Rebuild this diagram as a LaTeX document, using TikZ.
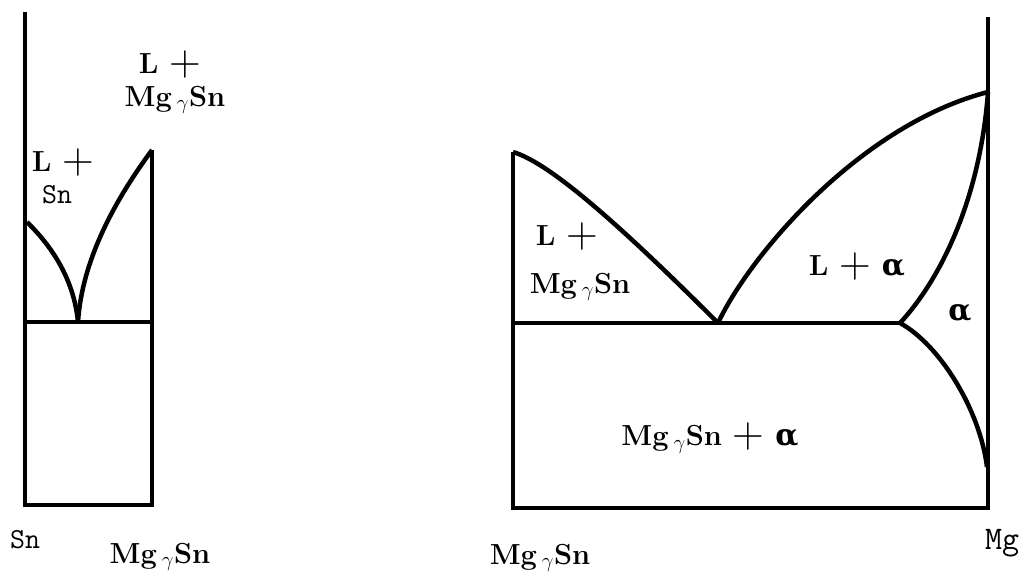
\documentclass[tikz,border=0pt]{standalone}
\usepackage{fontspec}
\usepackage{amsmath}
\newfontfamily\greekbold{DejaVu Serif}
\newcommand{\mgsn}{Mg\,$_{\gamma}$Sn}
\newcommand{\alphab}{{\greekbold\bfseries\fontsize{30}{30}\selectfont α}}
\newcommand{\plusm}{\raisebox{-2pt}{\mdseries\fontsize{44}{44}\selectfont +}}
\tikzset{
  phase/.style={line width=4.5pt, line join=miter},
  eut/.style={line width=4pt},
  lbl/.style={font=\fontsize{29}{32}\selectfont\bfseries, inner sep=0pt, anchor=center},
  mono/.style={font=\ttfamily\fontsize{29}{31}\selectfont, inner sep=0pt, anchor=center}
}
\begin{document}
\begin{tikzpicture}[x=1pt,y=-1pt]
\useasboundingbox (0,0) rectangle (1027,578);
% ---------- left diagram ----------
\coordinate (LTop) at (25,12);
\coordinate (LBL) at (25,505);
\coordinate (LBR) at (152,505);
\coordinate (LTR) at (152,150);
\coordinate (LEl) at (25,322);
\coordinate (LEr) at (152,322);
\coordinate (LEu) at (78,322);
\coordinate (LSn) at (27,222);
\draw[phase] (LTop) -- (LBL) -- (LBR) -- (LTR);
\draw[eut] (LEl) -- (LEr);
\draw[phase] (LSn) .. controls (42,237) and (73,270) .. (LEu);
\draw[phase] (LEu) .. controls (82,260) and (115,200) .. (LTR);
\node[lbl] (t1) at (170,65) {L \plusm};
\node[lbl] (t2) at (175,100) {\mgsn};
\node[lbl] (t3) at (63,163) {L \plusm};
\node[mono] (t4) at (57,195) {Sn};
\node[mono] (t5) at (25,540) {Sn};
\node[lbl] (t6) at (160,557) {\mgsn};
% ---------- right diagram ----------
\coordinate (RTL) at (513,152);
\coordinate (RBL) at (513,508);
\coordinate (RBR) at (988,508);
\coordinate (RTop) at (988,17);
\coordinate (REl) at (513,323);
\coordinate (REu) at (718,323);
\coordinate (RPer) at (900,323);
\coordinate (RMelt) at (988,92);
\coordinate (RSolv) at (987,467);
\draw[phase] (RTL) -- (RBL) -- (RBR) -- (RTop);
\draw[eut] (REl) -- (RPer);
\draw[phase] (RTL) .. controls (550,163) and (620,225) .. (REu);
\draw[phase] (REu) .. controls (750,255) and (860,125) .. (RMelt);
\draw[phase] (RMelt) .. controls (980,200) and (940,280) .. (RPer);
\draw[phase] (RPer) .. controls (940,345) and (980,410) .. (RSolv);
\node[lbl] (r1) at (567,237) {L \plusm};
\node[lbl] (r2) at (580,287) {\mgsn};
\node[lbl] (r3) at (857,267) {L \plusm{} \alphab};
\node[lbl] (r4) at (960,313) {\alphab};
\node[lbl] (r5) at (710,438) {\mgsn{} \plusm{} \alphab};
\node[lbl] (r6) at (540,558) {\mgsn};
\node[mono, font=\ttfamily\fontsize{33}{35}\selectfont] (r7) at (1002,543) {Mg};
\end{tikzpicture}
\end{document}
